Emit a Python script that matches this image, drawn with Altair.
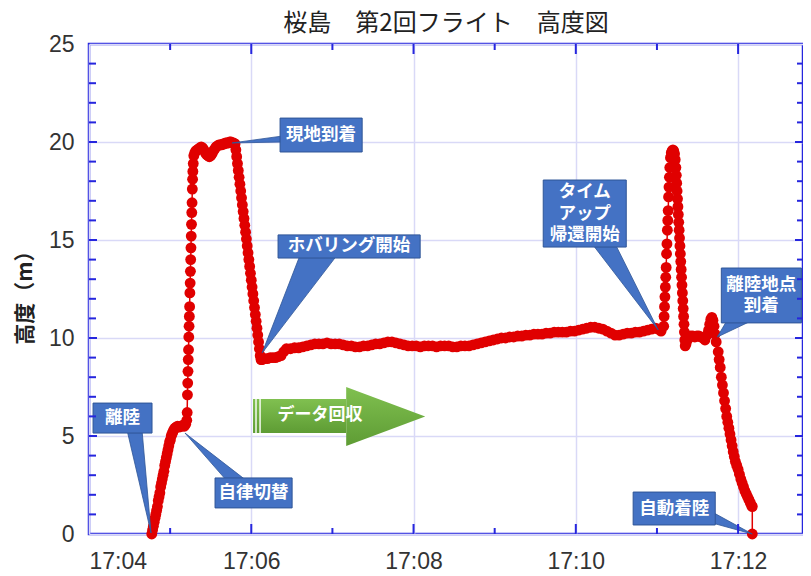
import altair as alt
import pandas as pd

# ---------------- data (seconds after 17:04:00, altitude in m) ----------------
TAKEOFF_T = [46.4, 47.0, 47.6, 48.2, 48.8, 49.4, 50.0, 50.6, 51.2, 51.8, 52.4, 53.0, 53.6, 54.2,
             54.8, 55.4, 56.0, 56.6, 57.2, 57.8, 58.4, 59.0, 59.6, 60.2, 60.8, 61.4, 62.0, 62.6,
             63.5, 64.5, 65.5, 66.5, 67.5, 68.5, 69.5, 70.5, 71.5, 72.3]
TAKEOFF_H = [0.0, 0.2, 0.4, 0.6, 0.8, 1.0, 1.2, 1.4, 1.7, 1.9, 2.1, 2.4, 2.6, 2.8,
             3.0, 3.2, 3.5, 3.7, 3.9, 4.1, 4.3, 4.5, 4.7, 4.8, 5.0, 5.1, 5.2, 5.3,
             5.4, 5.45, 5.5, 5.45, 5.5, 5.5, 5.55, 5.5, 5.6, 5.8]

CLIMB_T = [72.6, 72.8, 73.0, 73.2, 73.4, 73.6, 73.8, 74.0, 74.2, 74.4, 74.6, 74.8, 75.0, 75.2,
           75.4, 75.6, 75.8, 76.0, 76.2, 76.4, 76.6, 76.8, 77.1, 77.5]
CLIMB_H = [6.2, 7.1, 7.7, 8.3, 8.9, 9.4, 10.05, 10.6, 11.1, 11.6, 12.3, 12.8, 13.4, 14.0,
           14.6, 15.2, 15.8, 16.4, 16.9, 17.6, 18.1, 18.5, 18.9, 19.3]

TOP_T = [78.2, 79.0, 80.0, 81.0, 82.0, 83.0, 84.0, 85.0, 86.0, 87.0, 88.0, 89.0, 90.0, 91.0,
         92.0, 93.0, 94.0, 95.0, 96.0, 97.0, 98.0, 99.0, 100.0, 101.0, 102.0, 103.0, 104.0,
         105.0, 106.0, 107.0, 108.0]
TOP_H = [19.45, 19.55, 19.6, 19.65, 19.7, 19.75, 19.7, 19.6, 19.45, 19.35, 19.3, 19.25, 19.3,
         19.4, 19.55, 19.65, 19.75, 19.8, 19.85, 19.85, 19.85, 19.9, 19.9, 19.95, 19.95, 19.95,
         20.0, 20.0, 19.95, 19.95, 19.9]

DESCENT_T = [108.6, 109.2, 109.8, 110.4, 111.0, 111.6, 112.2, 112.8, 113.4, 114.0, 114.6, 115.2,
             115.8, 116.4, 117.0, 117.6, 118.2, 118.8, 119.4, 120.0, 120.6, 121.2, 121.8, 122.4,
             123.0, 123.6, 124.2, 124.8, 125.4, 126.0, 126.6, 127.2]
DESCENT_H = [19.6, 19.25, 18.9, 18.55, 18.2, 17.85, 17.5, 17.15, 16.8, 16.45, 16.1, 15.75,
             15.4, 15.05, 14.7, 14.35, 14.0, 13.65, 13.3, 12.95, 12.6, 12.25, 11.9, 11.55,
             11.2, 10.85, 10.5, 10.15, 9.8, 9.45, 9.1, 8.9]

HOVER_T = [128, 130, 132, 134, 136, 138, 140, 142, 144, 146, 149, 152, 155, 158, 161, 164, 167,
           170, 173, 176, 179, 182, 185, 188, 191, 194, 197, 200, 203, 206, 209, 212, 215, 218,
           221, 224, 227, 230, 233, 236, 239, 242, 245, 248, 251, 254, 257, 260, 263, 266, 269,
           272, 275, 278, 281, 284, 287, 290, 293, 296, 299, 302, 305, 308, 311, 314, 317, 320,
           323, 326, 329, 332, 335, 338, 341, 344, 347, 350, 353, 356, 359, 362, 365, 368, 371,
           374, 377, 380, 383, 386, 389, 392, 395, 398, 401, 404, 407, 410, 413, 416, 419, 421,
           423]
HOVER_H = [8.9, 8.95, 8.95, 9.0, 9.0, 9.0, 9.05, 9.1, 9.3, 9.45, 9.45, 9.5, 9.5, 9.55, 9.6,
           9.65, 9.7, 9.7, 9.7, 9.75, 9.7, 9.7, 9.7, 9.65, 9.6, 9.6, 9.55, 9.55, 9.6, 9.6, 9.65,
           9.7, 9.7, 9.75, 9.8, 9.8, 9.75, 9.7, 9.65, 9.6, 9.6, 9.6, 9.55, 9.6, 9.6, 9.6, 9.55,
           9.6, 9.6, 9.6, 9.55, 9.55, 9.6, 9.6, 9.6, 9.65, 9.7, 9.75, 9.8, 9.85, 9.9, 9.95, 10.0,
           10.0, 10.05, 10.05, 10.1, 10.1, 10.15, 10.15, 10.2, 10.2, 10.2, 10.25, 10.25, 10.3,
           10.3, 10.3, 10.3, 10.35, 10.35, 10.4, 10.45, 10.5, 10.55, 10.55, 10.5, 10.45, 10.35,
           10.25, 10.15, 10.15, 10.2, 10.25, 10.25, 10.3, 10.3, 10.35, 10.4, 10.45, 10.5, 10.45,
           10.35]

SPIKE_T = [425.0, 425.3, 425.6, 425.9, 426.2, 426.5, 426.8, 427.1, 427.4, 427.7, 428.0, 428.3,
           428.6, 428.9, 429.2, 429.5, 430.0, 430.6, 431.2, 431.8, 432.4, 433.0, 433.5,
           434.0, 434.3, 434.6, 434.9, 435.2, 435.5, 435.8, 436.1, 436.4, 436.7, 437.0, 437.3,
           437.6, 437.9, 438.2, 438.5, 438.8, 439.1, 439.4, 439.7, 440.0, 440.3, 440.6, 440.9]
SPIKE_H = [10.6, 11.1, 11.6, 12.1, 12.6, 13.1, 13.6, 14.3, 14.8, 15.5, 16.0, 16.5,
           17.2, 17.7, 18.2, 18.7, 19.2, 19.45, 19.55, 19.6, 19.55, 19.4, 19.1,
           18.7, 18.3, 17.9, 17.5, 17.1, 16.7, 16.3, 15.9, 15.5, 15.1, 14.7, 14.3,
           13.9, 13.5, 13.1, 12.7, 12.3, 11.9, 11.5, 11.1, 10.7, 10.3, 9.9, 9.6]

RETURN_T = [441.5, 442.5, 443.5, 445.0, 446.5, 448.0, 449.5, 451.0, 452.5, 454.0, 455.5, 457.0,
            458.2, 459.0, 459.8, 460.6, 461.4, 462.2, 463.0, 463.8]
RETURN_H = [9.7, 9.9, 10.05, 10.1, 10.1, 10.05, 10.1, 10.1, 10.05, 10.0, 9.9, 10.15,
            10.4, 10.7, 10.95, 11.05, 10.9, 10.6, 10.2, 9.8]

LANDING_T = [465.3, 466.0, 466.8, 467.6, 468.4, 469.2, 470.0, 470.8, 471.6, 472.4, 473.2, 474.0,
             474.8, 475.6, 476.4, 477.2, 478.0, 479.0, 480.0, 481.0, 482.0, 483.0, 484.0, 485.0,
             486.0, 487.0, 488.0, 489.0, 490.0, 490.5, 490.5]
LANDING_H = [9.3, 8.9, 8.5, 8.0, 7.6, 7.2, 6.8, 6.4, 6.0, 5.7, 5.4, 5.1,
             4.8, 4.5, 4.2, 3.95, 3.7, 3.5, 3.3, 3.05, 2.8, 2.6, 2.4, 2.2,
             2.05, 1.9, 1.75, 1.6, 1.45, 1.4, 0.0]

X_MAJOR = ["17:04", "17:06", "17:08", "17:10", "17:12"]
X_MINOR = ["17:05", "17:07", "17:09", "17:11"]
Y_MAJOR = [0, 5, 10, 15, 20, 25]
Y_MINOR = [v for v in range(1, 25) if v % 5 != 0]

TITLE = "桜島　第2回フライト　高度図"
Y_TITLE = "高度（m）"

# callouts: text lines, box (t1, t2, h1, h2) in seconds / metres
CALLOUTS = [
    (["離陸"], 3.0, 46.6, 5.15, 6.68),
    (["自律切替"], 93.2, 150.2, 1.33, 2.86),
    (["現地到着"], 141.3, 202.0, 19.49, 21.22),
    (["ホバリング開始"], 139.8, 244.9, 14.08, 15.26),
    (["タイム", "アップ", "帰還開始"], 335.9, 397.3, 14.64, 18.06),
    (["離陸地点", "到着"], 467.6, 526.8, 10.77, 13.57),
    (["自動着陸"], 402.4, 463.1, 0.46, 2.14),
]
LINE_STEP_M = 1.1  # vertical distance between text lines, in metres

# pointers running along y (base then tip): h, t_left, t_right
POINTERS_H = [
    [(5.31, 28.1, 39.2), (0.05, 45.9, 45.9)],
    [(2.70, 102.1, 116.9), (5.15, 71.0, 71.0)],
    [(14.23, 156.1, 183.5), (9.23, 128.0, 128.0)],
    [(14.80, 372.1, 389.1), (10.41, 420.9, 420.9)],
    [(10.92, 472.0, 491.2), (10.05, 464.6, 464.6)],
]
# pointers running along x (base then tip): t, h_low, h_high
POINTERS_V = [
    [(143.5, 20.0, 20.31), (105.8, 19.95, 19.95)],
    [(460.9, 0.56, 1.12), (490.5, 0.0, 0.0)],
]
# green arrow "データ回収"
ARROW_LABEL = "データ回収"
ARROW_BODY = (121.3, 190.1, 5.15, 6.89)
ARROW_HEAD = (219.4, 6.0)
ARROW_STRIPES = [123.5, 126.5]
ARROW_TEXT = (170.9, 6.07)

# ---------------- helpers ----------------
BASE = pd.Timestamp("2024-01-01 17:04:00")


def ts(sec):
    return (BASE + pd.to_timedelta(sec, unit="s")).strftime("%Y-%m-%dT%H:%M:%S.%f")[:-3]


def hm(s):
    return f"2024-01-01T{s}:00"


def dt(sec):
    t = BASE + pd.to_timedelta(sec, unit="s")
    return alt.DateTime(year=2024, month=1, date=1, hours=t.hour, minutes=t.minute,
                        seconds=t.second, milliseconds=int(t.microsecond / 1000))


def dt_hm(s):
    h, m = s.split(":")
    return alt.DateTime(year=2024, month=1, date=1, hours=int(h), minutes=int(m))


W, H = 714, 490
BLUE = "#2626de"
RED = "#e00000"
BOX = "#4472c4"
BOX_EDGE = "#2f5597"
JP = "Noto Sans CJK JP"

ft = TAKEOFF_T + CLIMB_T + TOP_T + DESCENT_T + HOVER_T + SPIKE_T + RETURN_T + LANDING_T
fh = TAKEOFF_H + CLIMB_H + TOP_H + DESCENT_H + HOVER_H + SPIKE_H + RETURN_H + LANDING_H
flight = pd.DataFrame({"t": [ts(s) for s in ft], "h": fh, "i": list(range(len(ft)))})

xscale = alt.Scale(domain=[dt(0), dt(528)])
yscale = alt.Scale(domain=[0, 25], nice=False, zero=False)
xaxis = alt.Axis(values=[dt_hm(v) for v in X_MAJOR], format="%H:%M", title=None,
                 labelOverlap=False, labelPadding=16)
yaxis = alt.Axis(values=Y_MAJOR, title=Y_TITLE, labelPadding=15,
                 titleX=-64, titleY=248, titleAngle=270, titleAlign="center",
                 titleBaseline="middle")

X = alt.X("t:T", scale=xscale, axis=xaxis, title=None)
Y = alt.Y("h:Q", scale=yscale, axis=yaxis, title=Y_TITLE)

line = alt.Chart(flight).mark_line(color=RED, strokeWidth=1.5).encode(x=X, y=Y, order="i:Q")
dots = alt.Chart(flight).mark_circle(size=118, color=RED, opacity=1).encode(x=X, y=Y)

# green arrow
green = alt.LinearGradient(gradient="linear", x1=0, x2=0, y1=0, y2=1,
                           stops=[alt.GradientStop(color="#80c050", offset=0),
                                  alt.GradientStop(color="#5e9c34", offset=1)])
body_df = pd.DataFrame({"t": [ts(ARROW_BODY[0])], "t2": [ts(ARROW_BODY[1])],
                        "h": [ARROW_BODY[2]], "h2": [ARROW_BODY[3]]})
arrow_body = alt.Chart(body_df).mark_rect(fill=green).encode(
    x=X, x2="t2:T", y=Y, y2="h2:Q")
head_df = pd.DataFrame({"t": [ts(ARROW_HEAD[0])], "h": [ARROW_HEAD[1]]})
arrow_head = alt.Chart(head_df).mark_point(
    shape="M-1,-0.747L1,0L-1,0.747Z", size=79 * 79, filled=True, fill=green,
    opacity=1, strokeWidth=0).encode(x=X, y=Y)
stripe_df = pd.DataFrame({"t": [ts(v) for v in ARROW_STRIPES],
                          "h": [ARROW_BODY[2]] * 2, "h2": [ARROW_BODY[3]] * 2})
stripes = alt.Chart(stripe_df).mark_rule(color="white", strokeWidth=1.4).encode(
    x=X, y=Y, y2="h2:Q")
atext_df = pd.DataFrame({"t": [ts(ARROW_TEXT[0])], "h": [ARROW_TEXT[1]], "s": [ARROW_LABEL]})
arrow_text = alt.Chart(atext_df).mark_text(font=JP, fontSize=17, fontWeight="bold",
                                            color="white").encode(x=X, y=Y, text="s:N")

# callout pointers, one layer each
pointer_layers = []
for rows in POINTERS_H:
    df = pd.DataFrame({"h": [r[0] for r in rows], "t": [ts(r[1]) for r in rows],
                       "t2": [ts(r[2]) for r in rows]})
    pointer_layers.append(
        alt.Chart(df).mark_area(orient="horizontal", color=BOX, opacity=1,
                                stroke=BOX_EDGE, strokeWidth=0.8).encode(
            y=Y, x=X, x2="t2:T"))
for rows in POINTERS_V:
    df = pd.DataFrame({"t": [ts(r[0]) for r in rows], "h": [r[1] for r in rows],
                       "h2": [r[2] for r in rows]})
    pointer_layers.append(
        alt.Chart(df).mark_area(orient="vertical", color=BOX, opacity=1,
                                stroke=BOX_EDGE, strokeWidth=0.8).encode(
            x=X, y=Y, y2="h2:Q"))

box_df = pd.DataFrame({
    "t": [ts(c[1]) for c in CALLOUTS], "t2": [ts(c[2]) for c in CALLOUTS],
    "h": [c[3] for c in CALLOUTS], "h2": [c[4] for c in CALLOUTS],
})
boxes = alt.Chart(box_df).mark_rect(fill=BOX, stroke=BOX_EDGE, strokeWidth=1).encode(
    x=X, x2="t2:T", y=Y, y2="h2:Q")

rows = []
for lines_, t1, t2, h1, h2 in CALLOUTS:
    n = len(lines_)
    for k, s in enumerate(lines_):
        rows.append({"s": s, "t": ts((t1 + t2) / 2),
                     "h": (h1 + h2) / 2 + ((n - 1) / 2 - k) * LINE_STEP_M})
txt_df = pd.DataFrame(rows)
box_text = alt.Chart(txt_df).mark_text(font=JP, fontSize=17.5, fontWeight="bold", color="white",
                                       baseline="middle").encode(x=X, y=Y, text="s:N")

# inward ticks
xmaj = pd.DataFrame({"t": [hm(v) for v in X_MAJOR[1:]]})
xmin = pd.DataFrame({"t": [hm(v) for v in X_MINOR]})
ymaj = pd.DataFrame({"h": Y_MAJOR[1:-1]})
ymin = pd.DataFrame({"h": Y_MINOR})


def xt(df, y0, y1):
    return alt.Chart(df).mark_rule(color=BLUE, strokeWidth=2).encode(
        x=X, y=alt.value(y0), y2=alt.value(y1))


def yt(df, x0, x1):
    return alt.Chart(df).mark_rule(color=BLUE, strokeWidth=2).encode(
        y=Y, x=alt.value(x0), x2=alt.value(x1))


ticks = [xt(xmaj, H, H - 10), xt(xmin, H, H - 6), xt(xmaj, 0, 10), xt(xmin, 0, 6),
         yt(ymaj, 0, 8), yt(ymin, 0, 7), yt(ymaj, W, W - 8), yt(ymin, W, W - 6)]

chart = alt.layer(
    line, dots, arrow_body, arrow_head, stripes, arrow_text,
    *pointer_layers, boxes, box_text, *ticks
).properties(
    width=W, height=H,
    title=alt.TitleParams(TITLE, font=JP, fontSize=24, fontWeight="normal", color="#222",
                          anchor="middle", offset=-3),
    autosize="none",
    padding={"left": 81, "top": 36, "right": 0, "bottom": 40},
    background="white",
).configure_view(
    stroke=BLUE, strokeWidth=2.5
).configure_axis(
    domain=False, ticks=False, grid=True, gridColor="#d9d9f7", gridWidth=1.5,
    labelFont="Liberation Sans", labelFontSize=23, labelColor="#333",
    titleFont=JP, titleFontSize=21, titleFontWeight="bold", titleColor="#222",
)

chart.save("out.html", embed_options={"renderer": "svg", "actions": False})
